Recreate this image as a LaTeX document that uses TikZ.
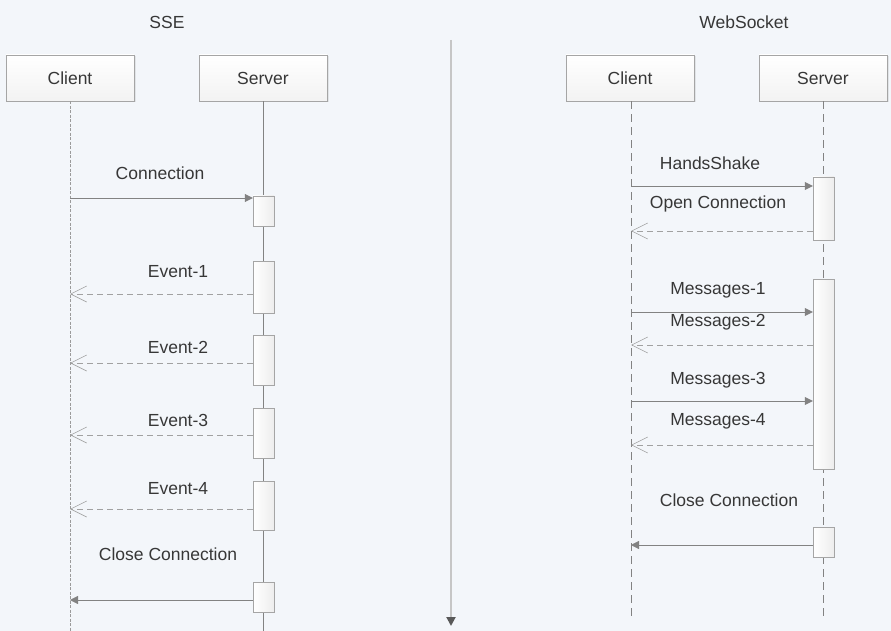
\documentclass[tikz,border=0pt]{standalone}
\usepackage{fontspec}
\setmainfont{Liberation Sans}
\usetikzlibrary{arrows.meta,shadows}

\definecolor{bgcol}{RGB}{243,246,250}
\definecolor{txtcol}{RGB}{55,55,55}
\definecolor{linecol}{RGB}{130,130,130}
\definecolor{boxline}{RGB}{165,165,165}

\tikzset{
  head/.style={draw=boxline, top color=white, bottom color=gray!10, minimum width=128pt, minimum height=46pt, inner sep=0pt, text=txtcol,
    drop shadow={opacity=0.15, shadow xshift=1.5pt, shadow yshift=-1.5pt}},
  actbox/.style={draw=boxline, left color=white, right color=gray!14, minimum width=21pt, inner sep=0pt,
    drop shadow={opacity=0.12, shadow xshift=1pt, shadow yshift=-1pt}},
  lbl/.style={text=txtcol, inner sep=0.75pt},
  call/.style={draw=linecol, -{Triangle[length=8pt,width=8pt,fill=linecol]}},
  reply/.style={draw=linecol!75, dash pattern=on 6pt off 4pt, -{Straight Barb[length=16pt,width=16pt,line width=0.6pt]}},
}

\begin{document}
\begin{tikzpicture}[x=1pt,y=1pt,yscale=-1,xscale=1,font=\fontsize{17.5}{20}\selectfont]
\fill[bgcol] (0,0) rectangle (891,631);
\useasboundingbox (0,0) rectangle (891,631);

% Titles
\node[lbl] (ssetitle) at (167,22) {SSE};
\node[lbl] (wstitle) at (744,22) {WebSocket};

%Divider
\coordinate (divtop) at (451,40);
\coordinate (divbot) at (451,626);
\draw[gray!45, line width=2pt, -{Triangle[length=9pt,width=9pt,color=gray!70!black]}] (divtop) -- (divbot);

%Shape: SSE heads
\node[head] (sc) at (70,78) {Client};
\node[head] (ss) at (263,78) {Server};
\coordinate (scend) at (70,631);
\coordinate (ssend) at (263,631);
\draw[linecol!80, dash pattern=on 3pt off 1.5pt] (sc.south) -- (scend);
\draw[linecol] (ss.south) -- (ssend);

%Shape: SSE activations
\node[actbox, minimum height=30pt] (sa0) at (263.5,211) {};
\node[actbox, minimum height=52pt] (sa1) at (263.5,287) {};
\node[actbox, minimum height=50pt] (sa2) at (263.5,360) {};
\node[actbox, minimum height=50pt] (sa3) at (263.5,433) {};
\node[actbox, minimum height=49pt] (sa4) at (263.5,505.5) {};
\node[actbox, minimum height=30pt] (sa5) at (263.5,597) {};

%Straight Lines: SSE messages
\coordinate (m0) at (70,198);
\coordinate (m1) at (70,294);
\coordinate (m2) at (70,363);
\coordinate (m3) at (70,435);
\coordinate (m4) at (70,509);
\coordinate (m5) at (70,600);
\draw[call] (m0) -- (sa0.west |- m0);
\draw[reply] (sa1.west |- m1) -- (m1);
\draw[reply] (sa2.west |- m2) -- (m2);
\draw[reply] (sa3.west |- m3) -- (m3);
\draw[reply] (sa4.west |- m4) -- (m4);
\draw[call] (sa5.west |- m5) -- (m5);

% Text Node
\node[lbl] (l0) at (160,173) {Connection};
\node[lbl] (l1) at (178,272) {Event-1};
\node[lbl] (l2) at (178,347) {Event-2};
\node[lbl] (l3) at (178,420) {Event-3};
\node[lbl] (l4) at (178,489) {Event-4};
\node[lbl] (l5) at (168,554) {Close Connection};

%Shape: WebSocket heads
\node[head] (wc) at (630,78) {Client};
\node[head] (ws) at (823,78) {Server};
\coordinate (wcend) at (631,618);
\coordinate (wsend) at (823,618);
\draw[linecol, dash pattern=on 8pt off 5pt] (wc.south -| wcend) -- (wcend);
\draw[linecol, dash pattern=on 8pt off 5pt] (ws.south) -- (wsend);

%Shape: WebSocket activations
\node[actbox, minimum height=63pt] (wa0) at (823.5,208.5) {};
\node[actbox, minimum height=190pt] (wa1) at (823.5,374) {};
\node[actbox, minimum height=30pt] (wa2) at (823.5,542) {};

%Straight Lines: WebSocket messages
\coordinate (n0) at (631,186);
\coordinate (n1) at (631,231);
\coordinate (n2) at (631,312);
\coordinate (n3) at (631,345);
\coordinate (n4) at (631,401);
\coordinate (n5) at (631,445);
\coordinate (n6) at (631,545);
\draw[call] (n0) -- (wa0.west |- n0);
\draw[reply] (wa0.west |- n1) -- (n1);
\draw[call] (n2) -- (wa1.west |- n2);
\draw[reply] (wa1.west |- n3) -- (n3);
\draw[call] (n4) -- (wa1.west |- n4);
\draw[reply] (wa1.west |- n5) -- (n5);
\draw[call] (wa2.west |- n6) -- (n6);

% Text Node
\node[lbl] (k0) at (710,163) {HandsShake};
\node[lbl] (k1) at (718,204) {Open Connection};
\node[lbl] (k2) at (718,290) {Messages-1};
\node[lbl] (k3) at (718,322) {Messages-2};
\node[lbl] (k4) at (718,380) {Messages-3};
\node[lbl] (k5) at (718,421) {Messages-4};
\node[lbl] (k6) at (729,500) {Close Connection};

\end{tikzpicture}
\end{document}
